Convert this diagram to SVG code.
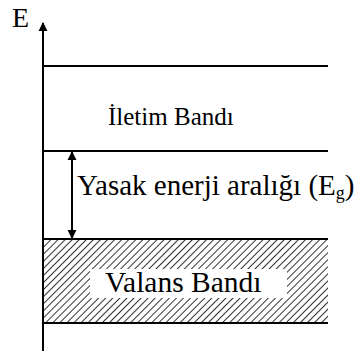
<svg xmlns="http://www.w3.org/2000/svg" width="358" height="351" viewBox="0 0 358 351">
  <style>
    .ln { stroke: #000; stroke-width: 2; fill: none; }
    text { font-family: 'Liberation Serif', 'Times New Roman', serif; fill: #000; }
  </style>
  <defs>
    <pattern id="hatch" patternUnits="userSpaceOnUse" width="5" height="5" patternTransform="rotate(45)">
      <rect width="5" height="5" fill="#fff"/>
      <line x1="0" y1="0" x2="0" y2="5" stroke="#333" stroke-width="2"/>
    </pattern>
    <marker id="ah" viewBox="0 0 10 10" refX="9" refY="5" markerWidth="9" markerHeight="10" markerUnits="userSpaceOnUse" orient="auto-start-reverse">
      <path d="M0,0 L10,5 L0,10 z" fill="#000"/>
    </marker>
  </defs>

  <rect width="358" height="351" fill="#fff"/>

  <!-- valence band (hatched) -->
  <g id="valence-band">
    <rect x="43" y="239" width="285" height="84" fill="url(#hatch)"/>
    <rect x="90" y="269" width="197" height="29" fill="#fff"/>
    <text x="105" y="292" font-size="29.5">Valans Bandı</text>
  </g>

  <!-- conduction band -->
  <g id="conduction-band">
    <text x="108" y="125" font-size="25">İletim Bandı</text>
  </g>

  <!-- band edges -->
  <g id="band-lines">
    <line class="ln" x1="43" y1="66" x2="328" y2="66"/>
    <line class="ln" x1="43" y1="151" x2="328" y2="151"/>
    <line class="ln" x1="43" y1="239" x2="328" y2="239"/>
    <line class="ln" x1="43" y1="323" x2="328" y2="323"/>
  </g>

  <!-- energy axis -->
  <g id="axis">
    <line class="ln" x1="43" y1="351" x2="43" y2="23" marker-end="url(#ah)"/>
    <text x="12" y="27" font-size="28">E</text>
  </g>

  <!-- band gap -->
  <g id="connectors">
    <line class="ln" x1="72" y1="152" x2="72" y2="238" marker-start="url(#ah)" marker-end="url(#ah)"/>
  </g>
  <g id="gap-label">
    <text x="77" y="195" font-size="29">Yasak enerji aralığı (E<tspan font-size="18" dy="4">g</tspan><tspan dy="-4">)</tspan></text>
  </g>
</svg>
